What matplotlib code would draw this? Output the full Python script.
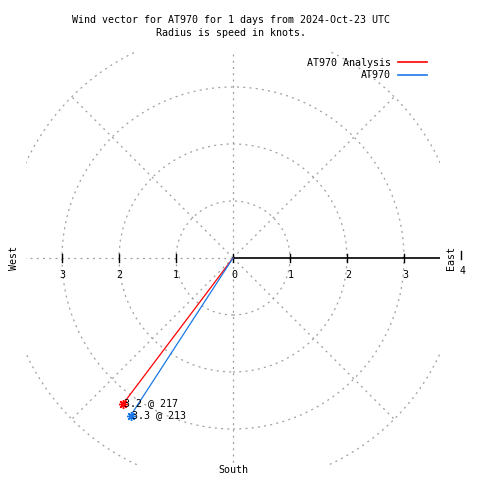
import matplotlib
matplotlib.use("Agg")
import matplotlib.pyplot as plt
from matplotlib.lines import Line2D
import numpy as np

# wind data: speed in knots, direction in degrees
names = ["AT970 Analysis", "AT970"]
speeds = [3.2, 3.3]
directions = [217, 213]
colors = ["#ff0000", "#1a78e6"]

rings = [1, 2, 3, 4]
left_ticks = [1, 2, 3]
right_ticks = [0, 1, 2, 3]

grey = "#a0a0a0"
dash = (0, (1.6, 3.4))
mono = "DejaVu Sans Mono"
fs = 7.2

fig = plt.figure(figsize=[4.8, 4.8], dpi=100)
ax = fig.add_axes([0.0542, 0.0313, 0.8625, 0.8625])
lim = 207 / 57
ax.set_xlim(-lim, lim)
ax.set_ylim(-lim, lim)
ax.set_aspect("equal")
ax.axis("off")

# range rings and spokes
for r in rings:
    ax.add_patch(plt.Circle((0, 0), r, fill=False, ec=grey, lw=0.9, ls=dash))
for a in [45, 135, 225, 315]:
    t = np.radians(a)
    ax.plot([0, 4 * np.cos(t)], [0, 4 * np.sin(t)], color=grey, lw=0.9, ls=dash)
ax.plot([0, 0], [-4, 4], color=grey, lw=0.9, ls=dash)
ax.plot([-4, 0], [0, 0], color=grey, lw=0.9, ls=dash)

# east axis
ax.plot([0, 4], [0, 0], color="black", lw=1.2)
tk = 0.07
for v in left_ticks:
    ax.plot([-v, -v], [-tk, tk], color="black", lw=1)
    ax.text(-v, -0.3, str(v), ha="center", va="center", family=mono, fontsize=fs)
for v in right_ticks:
    ax.plot([v, v], [-tk, tk], color="black", lw=1)
    ax.text(v + 0.02, -0.3, str(v), ha="center", va="center", family=mono, fontsize=fs)
ax.plot([4, 4], [-0.02, 0.12], color="black", lw=1, clip_on=False)
ax.text(4.02, -0.22, "4", ha="center", va="center", family=mono, fontsize=fs, clip_on=False)

ax.text(3.82, 0, "East", rotation=90, ha="center", va="center", family=mono, fontsize=fs)
ax.text(-3.84, 0, "West", rotation=90, ha="center", va="center", family=mono, fontsize=fs)
ax.text(0, -3.72, "South", ha="center", va="center", family=mono, fontsize=fs, clip_on=False)

# wind vectors
for s, d, c in zip(speeds, directions, colors):
    t = np.radians(d)
    x, y = s * np.sin(t), s * np.cos(t)
    ax.plot([0, x], [0, y], color=c, lw=0.9)
    ax.plot([x], [y], marker=(8, 2, 0), color=c, ms=6.5, mew=1)
    ax.text(x + 0.02, y + 0.01, "%.1f @ %d" % (s, d), ha="left", va="center",
            family=mono, fontsize=fs)

# title
fig.text(0.482, 0.958, "Wind vector for AT970 for 1 days from 2024-Oct-23 UTC",
         ha="center", va="center", family=mono, fontsize=fs)
fig.text(0.482, 0.931, "Radius is speed in knots.", ha="center", va="center",
         family=mono, fontsize=fs)

# legend
for i, (n, c) in enumerate(zip(names, colors)):
    yy = 1 - (63 + 12.5 * i) / 480
    fig.text(391 / 480, yy, n, ha="right", va="center", family=mono, fontsize=fs)
    fig.add_artist(Line2D([398 / 480, 427 / 480], [yy + 0.002, yy + 0.002],
                          color=c, lw=1.2))

fig.savefig("out.png", dpi=100)
